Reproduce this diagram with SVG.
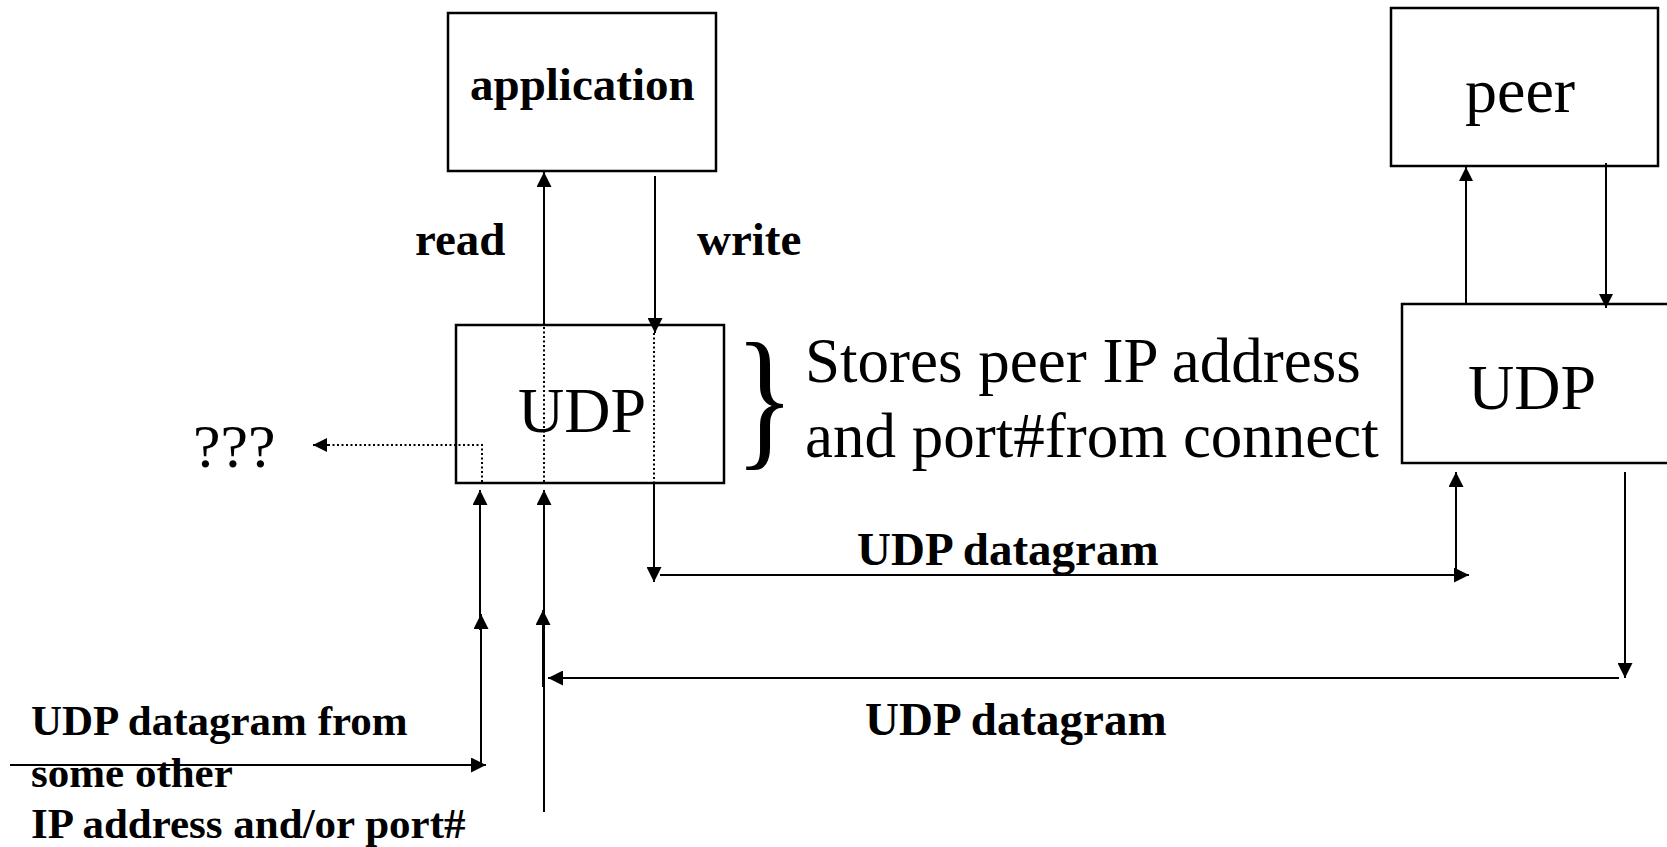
<svg xmlns="http://www.w3.org/2000/svg" width="1667" height="847" viewBox="0 0 1667 847">
<style>
.box{fill:#fff;stroke:#000;stroke-width:2.5}
.ln{fill:none;stroke:#000;stroke-width:2}
.dot{fill:none;stroke:#000;stroke-width:2;stroke-dasharray:2 2.5}
.b{font-family:"Liberation Serif","Times New Roman",serif;font-weight:bold;fill:#000}
.r{font-family:"Liberation Serif","Times New Roman",serif;fill:#000}
</style>
<defs>
<marker id="ah" markerUnits="userSpaceOnUse" markerWidth="15" markerHeight="15" refX="15" refY="7.5" orient="auto" viewBox="0 0 15 15">
<path d="M0,0 L15,7.5 L0,15 z" fill="#000"/>
</marker>
<marker id="ahs" markerUnits="userSpaceOnUse" markerWidth="14" markerHeight="14" refX="14" refY="7" orient="auto" viewBox="0 0 14 14">
<path d="M0,0 L14,7 L0,14 z" fill="#000"/>
</marker>
</defs>
<rect width="1667" height="847" fill="#fff"/>

<g id="application">
<rect class="box" x="448" y="13" width="268" height="158"/>
<text class="b" x="470" y="100" font-size="47">application</text>
</g>

<g id="udp-left">
<rect class="box" x="456" y="325" width="268" height="158"/>
<text class="r" x="518" y="432" font-size="64">UDP</text>
</g>

<g id="peer">
<rect class="box" x="1391" y="8" width="267" height="158"/>
<text class="r" x="1465" y="112" font-size="64">peer</text>
</g>

<g id="udp-right">
<rect class="box" x="1402" y="304" width="280" height="159"/>
<text class="r" x="1468" y="409" font-size="64">UDP</text>
</g>

<g id="unknown">
<text class="r" x="193" y="467" font-size="62">???</text>
</g>

<g id="note">
<text class="r" x="0" y="0" font-size="154" transform="translate(735,449) scale(0.8,1)">}</text>
<text class="r" x="805" y="382" font-size="63">Stores peer IP address</text>
<text class="r" x="805" y="457" font-size="63">and port#from connect</text>
</g>

<g id="labels">
<text class="b" x="415" y="255" font-size="47">read</text>
<text class="b" x="697" y="255" font-size="47">write</text>
<text class="b" x="857" y="565" font-size="47">UDP datagram</text>
<text class="b" x="865" y="735" font-size="47">UDP datagram</text>
<text class="b" x="31" y="735" font-size="43">UDP datagram from</text>
<text class="b" x="31" y="787" font-size="43">some other</text>
<text class="b" x="31" y="838" font-size="43">IP address and/or port#</text>
</g>

<g id="connectors">
<!-- read -->
<line class="ln" x1="544" y1="325" x2="544" y2="172" marker-end="url(#ah)"/>
<line class="dot" x1="544" y1="327" x2="544" y2="482"/>
<!-- write -->
<line class="ln" x1="655" y1="176" x2="655" y2="333" marker-end="url(#ah)"/>
<line class="dot" x1="654" y1="333" x2="654" y2="482"/>
<line class="ln" x1="654" y1="483" x2="654" y2="582" marker-end="url(#ah)"/>
<!-- to peer -->
<line class="ln" x1="660" y1="575" x2="1469" y2="575" marker-end="url(#ah)"/>
<line class="ln" x1="1456" y1="575" x2="1456" y2="472" marker-end="url(#ah)"/>
<!-- peer stack -->
<line class="ln" x1="1466" y1="304" x2="1466" y2="167" marker-end="url(#ahs)"/>
<line class="ln" x1="1606" y1="163" x2="1606" y2="308" marker-end="url(#ahs)"/>
<!-- from peer -->
<line class="ln" x1="1625" y1="472" x2="1625" y2="678" marker-end="url(#ah)"/>
<line class="ln" x1="1619" y1="678" x2="548" y2="678" marker-end="url(#ah)"/>
<line class="ln" x1="544" y1="812" x2="544" y2="490" marker-end="url(#ah)"/>
<line class="ln" x1="543" y1="687" x2="543" y2="610" stroke-width="3.5" marker-end="url(#ah)"/>
<!-- from other -->
<line class="ln" x1="10" y1="765" x2="486" y2="765" marker-end="url(#ah)"/>
<line class="ln" x1="481" y1="765" x2="481" y2="614" marker-end="url(#ah)"/>
<line class="ln" x1="480" y1="630" x2="480" y2="490" marker-end="url(#ah)"/>
<!-- ??? -->
<polyline class="dot" points="482,482 482,445 327,445"/>
<line class="ln" x1="330" y1="445" x2="313" y2="445" marker-end="url(#ahs)"/>
</g>
</svg>
